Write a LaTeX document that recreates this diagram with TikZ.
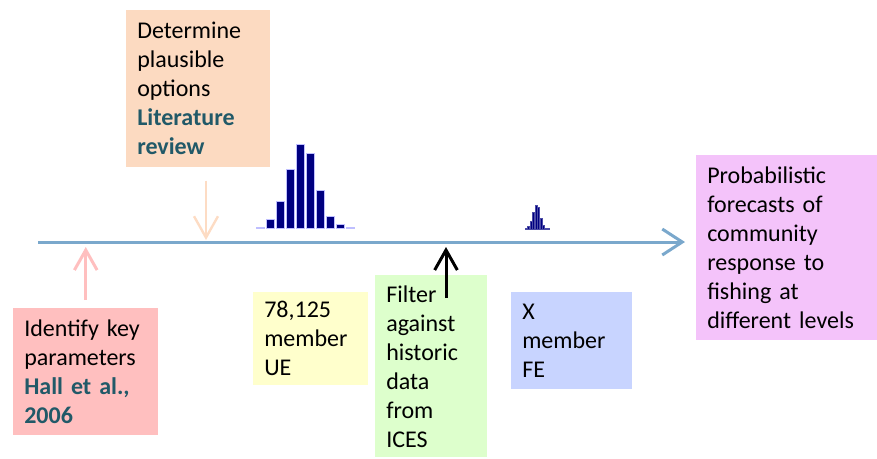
\documentclass[tikz,border=0pt]{standalone}
\usepackage{fontspec}
\setmainfont{Carlito}
\usetikzlibrary{arrows.meta}
\definecolor{boxorange}{HTML}{FCDAC1}
\definecolor{arroworange}{HTML}{FDDCC4}
\definecolor{boxpink}{HTML}{FFBFBF}
\definecolor{boxyellow}{HTML}{FFFFCC}
\definecolor{boxgreen}{HTML}{DDFFCC}
\definecolor{boxblue}{HTML}{C8D4FF}
\definecolor{boxmagenta}{HTML}{F4C3FA}
\definecolor{axisblue}{HTML}{7AA8CC}
\definecolor{refteal}{HTML}{215968}
\definecolor{barnavy}{HTML}{000080}
\newcommand{\srcref}[1]{\textcolor{refteal}{\textbf{#1}}}
\newcommand{\histbars}{%
  \foreach \h [count=\i from 0] in {1,8.3,26.7,58.3,83.3,75,37.3,11.7,3.3,1}
    \draw[bar] (10*\i,0) rectangle ++(8,-\h);}
\begin{document}
\begin{tikzpicture}[x=0.75pt,y=-0.75pt,
  box/.style={anchor=north west,align=left,inner xsep=8.25pt,inner ysep=0pt,
    font=\fontsize{18pt}{21.75pt}\selectfont},
  bar/.style={fill=barnavy,draw=blue!25,line width=0.4pt},
  up/.style={line width=2.25pt,-{Straight Barb[length=15pt,width=17pt]}}]
\useasboundingbox (0,0) rectangle (877,458);
% boxes
\node[box,fill=boxorange,text width=91.5pt,minimum height=117.75pt](orange) at (126,10)
  {Determine\\plausible\\options\\\srcref{Literature}\\\srcref{review}};
\node[box,fill=boxpink,text width=92.25pt,minimum height=95.25pt](pink) at (13,308)
  {Identify key\\parameters\\\srcref{Hall et al.,}\\\srcref{2006}};
\node[box,fill=boxyellow,text width=69.75pt,minimum height=69.75pt](yellow) at (253,292)
  {78,125\\member\\UE};
\node[box,fill=boxgreen,text width=67.5pt,minimum height=136.5pt](green) at (375,275)
  {Filter\\against\\historic\\data\\from\\ICES};
\node[box,fill=boxblue,text width=74.25pt,minimum height=72.75pt](blue) at (511,292)
  {X\\member\\FE};
\node[box,fill=boxmagenta,text width=119.25pt,minimum height=138.75pt](forecast) at (696,155)
  {Probabilistic\\forecasts of\\community\\response to\\fishing at\\different levels};
% axis
\coordinate (start) at (38,242);
\coordinate (end) at (685,242);
\draw[axisblue,line width=2.25pt,-{Straight Barb[length=15pt,width=19.5pt]}] (start) -- (end);
% arrows onto the axis
\coordinate (hit1) at (86,247);
\coordinate (hit2) at (206,240);
\coordinate (hit3) at (446,247);
\draw[up,boxpink,shorten <=6pt] (pink.north) -- (pink.north |- hit1);
\draw[arroworange,line width=1.8pt,shorten <=9.75pt,-{Straight Barb[length=16pt,width=18pt]}]
  (orange.south -| hit2) -- (hit2);
\draw[up,black,shorten <=-17.25pt] (green.north -| hit3) -- (hit3);
% histograms
\begin{scope}[shift={(256.7,228)}]
  \histbars
\end{scope}
\begin{scope}[shift={(525,229)},xscale=0.25,yscale=0.29,bar/.append style={draw=barnavy!70}]
  \histbars
\end{scope}
\end{tikzpicture}
\end{document}
